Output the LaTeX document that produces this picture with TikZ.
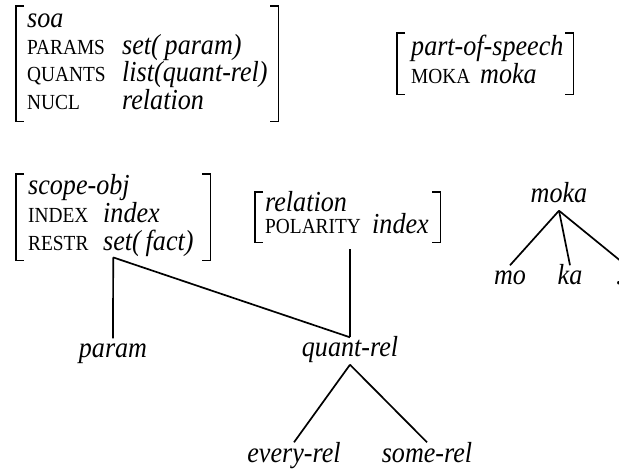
\documentclass[tikz,border=0pt]{standalone}
\usepackage{fontspec}
\setmainfont{Liberation Serif}[FakeStretch=0.9]
\newcommand\avmbrackets[1]{%
  \draw[bracket] ([xshift=8pt]#1.north west) -- (#1.north west) -- (#1.south west) -- ([xshift=8pt]#1.south west);
  \draw[bracket] ([xshift=-8pt]#1.north east) -- (#1.north east) -- (#1.south east) -- ([xshift=-8pt]#1.south east);}
\begin{document}
\begin{tikzpicture}[x=1pt,y=-1pt,
  val/.style={font=\fontsize{29}{33}\selectfont\itshape, inner sep=0pt, anchor=base west},
  lab/.style={font=\fontsize{21.5}{25}\selectfont, inner sep=0pt, anchor=base west},
  leaf/.style={font=\fontsize{29}{33}\selectfont\itshape, inner sep=1.5pt, text height=18pt, text depth=6pt, anchor=base},
  avm/.style={inner sep=0pt, anchor=north west},
  bracket/.style={line width=1.2pt},
  conn/.style={line width=1.7pt}]
\useasboundingbox (0,0) rectangle (619,470);
\clip (0,0) rectangle (619,470);
% AVM soa
\node[avm, minimum width=262pt, minimum height=115pt] (avmsoa) at (16,6) {};
\avmbrackets{avmsoa}
\node[val] (tsoa) at (27,28) {soa};
\node[lab] (lparams) at (27,55) {PARAMS};
\node[val] (vparams) at (122,55) {set(\,param)};
\node[lab] (lquants) at (27,82) {QUANTS};
\node[val] (vquants) at (122,82) {list(quant-rel)};
\node[lab] (lnucl) at (27,110) {NUCL};
\node[val] (vnucl) at (122,110) {relation};
% AVM part-of-speech
\node[avm, minimum width=176pt, minimum height=61pt] (avmpos) at (397,33) {};
\avmbrackets{avmpos}
\node[val] (tpos) at (411,56) {part-of-speech};
\node[lab] (lmoka) at (411,84) {MOKA};
\node[val] (vmoka) at (480,84) {moka};
% AVM scope-obj
\node[avm, minimum width=194pt, minimum height=86pt] (avmscope) at (16,174) {};
\avmbrackets{avmscope}
\node[val] (tscope) at (28,195) {scope-obj};
\node[lab] (lindex) at (28,223) {INDEX};
\node[val] (vindex) at (103,223) {index};
\node[lab] (lrestr) at (28,251) {RESTR};
\node[val] (vrestr) at (103,251) {set(\,fact)};
% AVM relation
\node[avm, minimum width=185pt, minimum height=50pt] (avmrel) at (255,192) {};
\avmbrackets{avmrel}
\node[val] (trel) at (265,212) {relation};
\node[lab] (lpol) at (265,234) {POLARITY};
\node[val] (vpol) at (372,234) {index};
% leaves
\node[leaf] (param) at (113,358) {param};
\node[leaf] (quantrel) at (350,357) {quant-rel};
\node[leaf] (everyrel) at (294,462) {every-rel};
\node[leaf] (somerel) at (427,462) {some-rel};
\node[leaf] (moka) at (559,203) {moka};
\node[leaf] (mo) at (510,285) {mo};
\node[leaf] (ka) at (570,285) {ka};
\node[leaf] (more) at (626,285) {...};
% connectors
\draw[conn] ([yshift=3pt]avmscope.south) -- (param.north);
\draw[conn] ([yshift=3pt]avmscope.south) -- (quantrel.north);
\draw[conn, shorten <=7pt] (avmrel.south -| quantrel.north) -- (quantrel.north);
\draw[conn] (quantrel.south) -- (everyrel.north);
\draw[conn] (quantrel.south) -- (somerel.north);
\draw[conn] (moka.south) -- (mo.north);
\draw[conn] (moka.south) -- (ka.north);
\draw[conn] (moka.south) -- (more.north);
\end{tikzpicture}
\end{document}
